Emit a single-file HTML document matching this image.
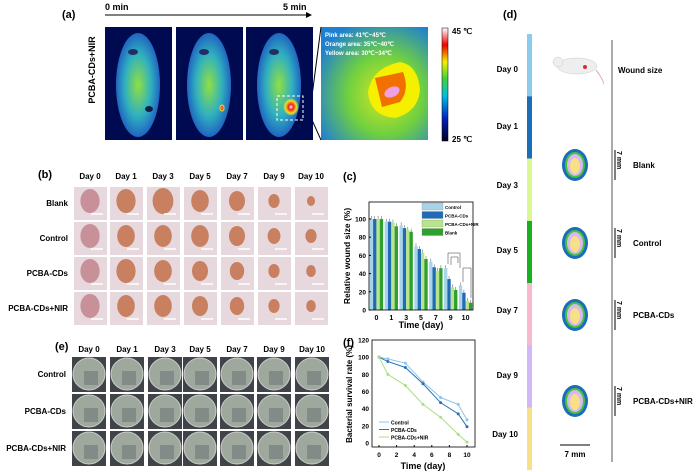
<!DOCTYPE html>
<html><head><meta charset="utf-8"><style>
body{margin:0;background:#fff}
svg{display:block;font-family:"Liberation Sans",sans-serif}
.b{font-weight:bold}
</style></head><body>
<svg id="s" width="700" height="472" viewBox="0 0 700 472">
<defs>
<radialGradient id="mouse" cx="50%" cy="50%" r="60%"><stop offset="0" stop-color="#8fe040"/><stop offset="0.5" stop-color="#30b0c0"/><stop offset="1" stop-color="#1840c0"/></radialGradient>
<radialGradient id="zoomg" cx="60%" cy="60%" r="70%"><stop offset="0" stop-color="#d8e820"/><stop offset="0.5" stop-color="#70d040"/><stop offset="1" stop-color="#2080d0"/></radialGradient>
<linearGradient id="cbar" x1="0" y1="1" x2="0" y2="0"><stop offset="0" stop-color="#000020"/><stop offset="0.2" stop-color="#0020c0"/><stop offset="0.4" stop-color="#00c0e0"/><stop offset="0.55" stop-color="#40d040"/><stop offset="0.7" stop-color="#f0f000"/><stop offset="0.85" stop-color="#f00000"/><stop offset="1" stop-color="#fff"/></linearGradient>
<radialGradient id="hot" cx="50%" cy="50%" r="50%"><stop offset="0" stop-color="#fff"/><stop offset="0.3" stop-color="#f02020"/><stop offset="0.7" stop-color="#f0e020"/><stop offset="1" stop-color="#f0e020" stop-opacity="0"/></radialGradient>
</defs>
<g id="pa">
<text x="62" y="18" font-size="11" class="b">(a)</text>
<text x="105" y="10" font-size="9" class="b">0 min</text>
<text x="283" y="10" font-size="9" class="b">5 min</text>
<line x1="105" y1="15" x2="310" y2="15" stroke="#000" stroke-width="1"/>
<path d="M306,12 L312,15 L306,18Z" fill="#000"/>
<text transform="translate(95,70) rotate(-90)" text-anchor="middle" font-size="9" class="b">PCBA-CDs+NIR</text>
<rect x="321" y="27" width="107" height="113" fill="url(#zoomg)"/>
<path d="M368,92 Q372,68 400,62 Q418,65 420,90 Q418,112 395,118 Q370,116 368,92Z" fill="#f5f000"/>
<path d="M375,78 L403,72 Q410,90 400,102 L382,107Z" fill="#f07000"/>
<ellipse cx="392" cy="92" rx="8" ry="5" fill="#f0a0e0" transform="rotate(-25 392 92)"/>
<text x="325" y="37" font-size="6" fill="#fff" class="b">Pink      area: 41℃~45℃</text>
<text x="325" y="46" font-size="6" fill="#fff" class="b">Orange area: 35℃~40℃</text>
<text x="325" y="55" font-size="6" fill="#fff" class="b">Yellow  area: 30℃~34℃</text>
<line x1="312" y1="96" x2="321" y2="27" stroke="#000"/><line x1="312" y1="120" x2="321" y2="140" stroke="#000"/>
<rect x="442" y="28" width="6" height="113" fill="url(#cbar)" stroke="#000" stroke-width="0.5"/>
<text x="452" y="34" font-size="8" class="b">45 ℃</text>
<text x="452" y="142" font-size="8" class="b">25 ℃</text>
</g>
<g id="pb"><text x="38" y="178" font-size="11" class="b">(b)</text></g>
<g id="pe"><text x="55" y="350" font-size="11" class="b">(e)</text></g>
<g id="pc"></g>
<g id="pf"></g>
<g id="pd">
<text x="503" y="18" font-size="11" class="b">(d)</text>
<line x1="612" y1="40" x2="612" y2="462" stroke="#555" stroke-width="1"/>
<ellipse cx="577" cy="66" rx="20" ry="8" fill="#eee" stroke="#ccc" stroke-width="0.5"/>
<circle cx="558" cy="62" r="5" fill="#eee" stroke="#ccc" stroke-width="0.5"/>
<circle cx="585" cy="67" r="2" fill="#d03030"/>
<path d="M596,70 Q605,82 603,84" stroke="#e0a0a0" fill="none"/>
<text x="618" y="73" font-size="8" class="b">Wound size</text>
<line x1="560" y1="445" x2="590" y2="445" stroke="#000"/>
<text x="575" y="457" font-size="8" class="b" text-anchor="middle">7 mm</text>
</g>
<script>
var NS='http://www.w3.org/2000/svg';
function mk(p,t,a,txt){var e=document.createElementNS(NS,t);for(var k in a)e.setAttribute(k,a[k]);if(txt!==undefined)e.textContent=txt;p.appendChild(e);return e;}
var days=['Day 0','Day 1','Day 3','Day 5','Day 7','Day 9','Day 10'];
// panel a thermal
var pa=document.getElementById('pa');
[105,176,246].forEach(function(x,i){
 var r=mk(pa,'rect',{x:x,y:27,width:67,height:113,fill:'#000a50'});
 
 
 mk(pa,'ellipse',{cx:x+33,cy:85,rx:22,ry:52,fill:'url(#mouse)'});
 mk(pa,'ellipse',{cx:x+28,cy:52,rx:5,ry:3,fill:'#203060'});
 if(i==0)mk(pa,'ellipse',{cx:x+44,cy:109,rx:4,ry:3,fill:'#102040'});
 if(i==1)mk(pa,'ellipse',{cx:x+46,cy:108,rx:3,ry:4,fill:'url(#hot)'});
 if(i==2){mk(pa,'ellipse',{cx:x+45,cy:107,rx:8,ry:9,fill:'url(#hot)'});mk(pa,'rect',{x:x+31,y:96,width:26,height:24,fill:'none',stroke:'#fff','stroke-dasharray':'3,2'});}
});
// panel b
var pb=document.getElementById('pb');
var bx=[74,110,147,184,221,258,295], by=[187,222,257,292], bl=['Blank','Control','PCBA-CDs','PCBA-CDs+NIR'];
var wr=[[12,12,13,11,10,7,5],[12,11,11,11,10,8,7],[12,12,11,10,9,7,6],[12,11,11,10,9,7,6]];
days.forEach(function(d,j){var t=mk(pb,'text',{x:bx[j]+16,y:179,'font-size':8,'font-weight':'bold','text-anchor':'middle'},d);});
bl.forEach(function(l,i){
 var t=mk(pb,'text',{x:68,y:by[i]+19,'font-size':8,'font-weight':'bold','text-anchor':'end'},l);
 
 
 bx.forEach(function(x,j){
  var r=mk(pb,'rect',{x:x,y:by[i],width:33,height:33,fill:'#e6d8dc'});
  
  
  mk(pb,'ellipse',{cx:x+16,cy:by[i]+14,rx:wr[i][j]*0.8,ry:wr[i][j],fill:j==0?'#c89098':'#c88060'});
  mk(pb,'line',{x1:x+17,y1:by[i]+27,x2:x+29,y2:by[i]+27,stroke:'#fff','stroke-width':1.5});
 });
});
// panel e
var pe=document.getElementById('pe');
var ex=[72,110,148,183,220,257,295], ey=[357,394,431], el=['Control','PCBA-CDs','PCBA-CDs+NIR'];
days.forEach(function(d,j){var t=mk(pe,'text',{x:ex[j]+17,y:352,'font-size':8,'font-weight':'bold','text-anchor':'middle'},d);});
el.forEach(function(l,i){
 var t=mk(pe,'text',{x:66,y:ey[i]+20,'font-size':8,'font-weight':'bold','text-anchor':'end'},l);
 
 
 ex.forEach(function(x,j){
  var r=mk(pe,'rect',{x:x,y:ey[i],width:34,height:35,fill:'#404448'});
  
  
  mk(pe,'circle',{cx:x+17,cy:ey[i]+17,r:16,fill:'#9ea89c',stroke:'#ccc','stroke-width':1});
  mk(pe,'rect',{x:x+12,y:ey[i]+14,width:14,height:14,fill:'#70787a',opacity:0.6});
 });
});
// panel d
var pd=document.getElementById('pd');
var segc=['#8ccbf0','#1a6eb8','#d8f890','#18b020','#f8b8d0','#d0b8f8','#f8e088'];
segc.forEach(function(c,i){var r=mk(pd,'rect',{x:527,y:34+i*62.3,width:5,height:62.3,fill:c});});
var dy=[72,129,188,253,313,378,437];
days.forEach(function(d,i){var t=mk(pd,'text',{x:518,y:dy[i],'font-size':8,'font-weight':'bold','text-anchor':'end'},d);});
var wy=[165,243,315,401], wl=['Blank','Control','PCBA-CDs','PCBA-CDs+NIR'];
wl.forEach(function(l,i){
 mk(pd,'ellipse',{cx:575,cy:wy[i],rx:13,ry:16,fill:'#1a6eb8'});
 mk(pd,'ellipse',{cx:575,cy:wy[i],rx:10,ry:13,fill:'#48c040'});
 mk(pd,'ellipse',{cx:575,cy:wy[i],rx:8,ry:11,fill:'#d8b8f0'});
 mk(pd,'ellipse',{cx:575,cy:wy[i]+1,rx:5,ry:8,fill:'#f8e088'});
 mk(pd,'line',{x1:615,y1:wy[i]-15,x2:615,y2:wy[i]+15,stroke:'#000'});
 var t=mk(pd,'text',{transform:'translate(617,'+(wy[i]-14)+') rotate(90)','font-size':7,'font-weight':'bold'},'7 mm');
 var t2=mk(pd,'text',{x:633,y:wy[i]+3,'font-size':8,'font-weight':'bold'},l);
 
 
});
</script>
<script>
// chart c data
var cCats=['0','1','3','5','7','9','10'];
var cSeries=['Control','PCBA-CDs','PCBA-CDs+NIR','Blank'];
var cControl=[100,97,93,70,53,46,27];
var cPCBA=[100,97,90,67,47,34,19];
var cNIR=[100,96,88,63,43,25,10];
var cBlank=[100,92,86,56,46,22,8];
var cYTicks=[0,20,40,60,80,100];
// chart f data
var fX=[0,1,3,5,7,9,10];
var fControl=[100,98,93,71,53,45,27];
var fPCBA=[100,95,88,69,47,34,19];
var fNIR=[100,80,67,45,30,10,1];
var fXTicks=[0,2,4,6,8,10];
var fYTicks=[0,20,40,60,80,100,120];
(function(){
var pc=document.getElementById('pc');
var X0=369,X1=473,Y0=310,YT=202;
function cy(v){return Y0-v*(Y0-219)/100;}
var cols=['#a8d4ea','#1f6bb5','#b8e48c','#2ea02e'];
var vals=[cControl,cPCBA,cNIR,cBlank];
mk(pc,'text',{x:343,y:180,'font-size':11,'font-weight':'bold'},'(c)');
var step=(X1-X0)/cCats.length,bw=step*0.9/4;
cCats.forEach(function(c,i){
 var gx=X0+step*i+step*0.05;
 vals.forEach(function(s,k){
  var v=s[i];
  var r=mk(pc,'rect',{x:gx+k*bw,y:cy(v),width:bw,height:Y0-cy(v),fill:cols[k]});
  
  
  mk(pc,'line',{x1:gx+k*bw+bw/2,y1:cy(v)-3,x2:gx+k*bw+bw/2,y2:cy(v),stroke:'#555','stroke-width':0.5});
 });
 var t=mk(pc,'text',{x:gx+step*0.45,y:Y0+10,'font-size':7,'font-weight':'bold','text-anchor':'middle'},c);
 
 
});
mk(pc,'rect',{x:X0,y:YT,width:X1-X0,height:Y0-YT,fill:'none',stroke:'#000','stroke-width':0.8});
cYTicks.forEach(function(v){
 var t=mk(pc,'text',{x:X0-3,y:cy(v)+2.5,'font-size':6.5,'font-weight':'bold','text-anchor':'end'},v);
 
 
 mk(pc,'line',{x1:X0,y1:cy(v),x2:X0+2,y2:cy(v),stroke:'#000'});
});
var xt=mk(pc,'text',{x:421,y:328,'font-size':9,'font-weight':'bold','text-anchor':'middle'},'Time (day)');


var yt=mk(pc,'text',{transform:'translate(350,256) rotate(-90)','font-size':8.5,'font-weight':'bold','text-anchor':'middle'},'Relative wound size (%)');


cSeries.forEach(function(s,k){
 var g=mk(pc,'g',{});
 
 
 mk(g,'rect',{x:422,y:203+k*8.5,width:21,height:7,fill:cols[k],stroke:'#888','stroke-width':0.3});
 mk(g,'text',{x:445,y:209+k*8.5,'font-size':4.5,'font-weight':'bold'},s);
});
// significance brackets
[[9,'**'],[10,'***']].forEach(function(p){});
mk(pc,'path',{d:'M448,264 V253 H460 V268',fill:'none',stroke:'#333','stroke-width':0.5});
mk(pc,'path',{d:'M451,265 V257 H458 V263',fill:'none',stroke:'#333','stroke-width':0.5});
mk(pc,'path',{d:'M463,282 V268 H471 V298',fill:'none',stroke:'#333','stroke-width':0.5});

var pf=document.getElementById('pf');
var FX0=372,FX1=475,FY0=443,FYT=340,ax0=379,ax1=467;
function fx(v){return ax0+(ax1-ax0)*v/10;}
function fy(v){return FY0-(FY0-FYT)*v/120;}
mk(pf,'text',{x:343,y:346,'font-size':11,'font-weight':'bold'},'(f)');
mk(pf,'rect',{x:FX0,y:FYT,width:FX1-FX0,height:FY0-FYT+4,fill:'none',stroke:'#000','stroke-width':0.8});
fYTicks.forEach(function(v){
 var t=mk(pf,'text',{x:FX0-3,y:fy(v)+2.5,'font-size':6.5,'font-weight':'bold','text-anchor':'end'},v);
 
 
});
fXTicks.forEach(function(v){
 var t=mk(pf,'text',{x:fx(v),y:FY0+14,'font-size':6.5,'font-weight':'bold','text-anchor':'middle'},v);
 
 
 mk(pf,'line',{x1:fx(v),y1:FY0+4,x2:fx(v),y2:FY0+2,stroke:'#000'});
});
var fser=[['Control',fControl,'#8cc4ec'],['PCBA-CDs',fPCBA,'#2a70b8'],['PCBA-CDs+NIR',fNIR,'#a8e080']];
fser.forEach(function(s,k){
 var d=fX.map(function(x,i){return (i?'L':'M')+fx(x)+','+fy(s[1][i]);}).join(' ');
 var p=mk(pf,'path',{d:d,fill:'none',stroke:s[2],'stroke-width':1});
 
 
 fX.forEach(function(x,i){
  var c=mk(pf,'circle',{cx:fx(x),cy:fy(s[1][i]),r:1.5,fill:s[2]});
  
  
 });
 var g=mk(pf,'g',{});
 
 
 mk(g,'line',{x1:379,y1:422+k*7.5,x2:389,y2:422+k*7.5,stroke:s[2]});
 mk(g,'text',{x:391,y:424.5+k*7.5,'font-size':5,'font-weight':'bold'},s[0]);
});
var xt2=mk(pf,'text',{x:423,y:469,'font-size':9,'font-weight':'bold','text-anchor':'middle'},'Time (day)');


var yt2=mk(pf,'text',{transform:'translate(352,394) rotate(-90)','font-size':8,'font-weight':'bold','text-anchor':'middle'},'Bacterial survival rate (%)');


})();
</script>
</svg>
</body></html>
